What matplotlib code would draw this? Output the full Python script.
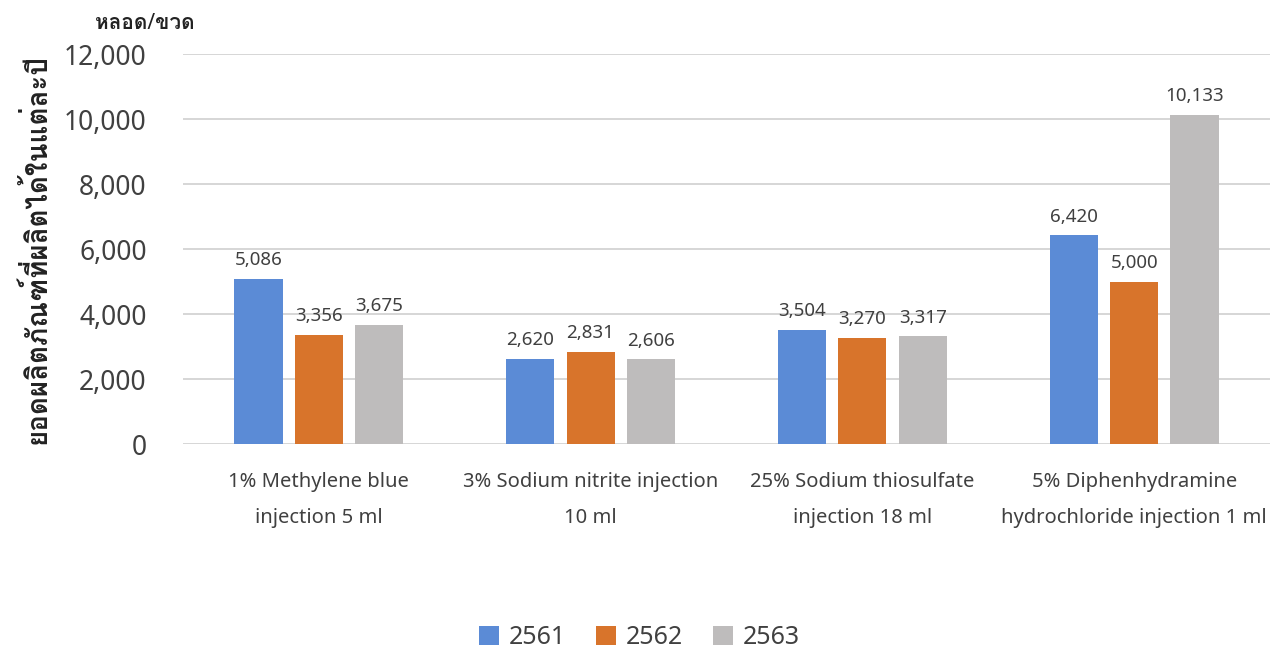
import numpy as np
import matplotlib
matplotlib.use("Agg")
import matplotlib.pyplot as plt
from matplotlib import font_manager
from matplotlib.ft2font import FT2Font

# Data
categories = [
    "1% Methylene blue\ninjection 5 ml",
    "3% Sodium nitrite injection\n10 ml",
    "25% Sodium thiosulfate\ninjection 18 ml",
    "5% Diphenhydramine\nhydrochloride injection 1 ml",
]
years = ["2561", "2562", "2563"]
values_2561 = [5086, 2620, 3504, 6420]
values_2562 = [3356, 2831, 3270, 5000]
values_2563 = [3675, 2606, 3317, 10133]
yticks = [0, 2000, 4000, 6000, 8000, 10000, 12000]

colors = ["#5B8BD6", "#D8742B", "#BEBCBC"]


# find an installed font that has Thai glyphs
def thai_family():
    for f in font_manager.fontManager.ttflist:
        try:
            cmap = FT2Font(f.fname).get_charmap()
        except Exception:
            continue
        if 0x0E2B in cmap and 0x0E14 in cmap:
            return f.name
    return "DejaVu Sans"


thai = thai_family()
plt.rcParams["font.family"] = ["Noto Sans", thai, "DejaVu Sans"]

fig = plt.figure(figsize=(12.79, 6.52), dpi=100)
ax = fig.add_axes([0.143, 0.319, 0.85, 0.598])

x = np.arange(len(categories))
width = 0.177
step = 0.222
series = [values_2561, values_2562, values_2563]
for i, (vals, yr, c) in enumerate(zip(series, years, colors)):
    pos = x + (i - 1) * step
    bars = ax.bar(pos, vals, width, color=c, label=yr, zorder=3)
    for b, v in zip(bars, vals):
        ax.annotate(f"{v:,}", (b.get_x() + b.get_width() / 2, v),
                    xytext=(0, 7), textcoords="offset points",
                    ha="center", va="bottom", fontsize=13.5, color="#404040")

ax.set_xlim(-0.5, 3.5)
ax.set_ylim(0, 12000)
ax.set_yticks(yticks)
ax.set_yticklabels([f"{t:,}" for t in yticks], fontsize=19, color="#404040")
ax.set_xticks(x)
ax.set_xticklabels(categories, fontsize=14.5, color="#404040", linespacing=2.1)
ax.tick_params(axis="both", length=0)
ax.tick_params(axis="y", pad=26)
ax.tick_params(axis="x", pad=20)
ax.grid(axis="y", color="#D0D0D0", linewidth=1.2, zorder=0)
for s in ax.spines.values():
    s.set_visible(False)

ax.set_ylabel("ยอดผลิตภัณฑ์ที่ผลิตได้ในแต่ละปี", fontsize=20, fontweight="bold",
              color="#222222", labelpad=8)
fig.text(0.113, 0.964, "หลอด/ขวด", fontsize=15, fontweight="bold",
         color="#222222", ha="center", va="center")

fig.legend(loc="center", bbox_to_anchor=(0.5, 0.022), ncol=3, frameon=False,
           fontsize=18, handlelength=0.8, handleheight=0.8, columnspacing=1.2,
           handletextpad=0.4, labelcolor="#404040")

fig.savefig("out.png", dpi=100)
